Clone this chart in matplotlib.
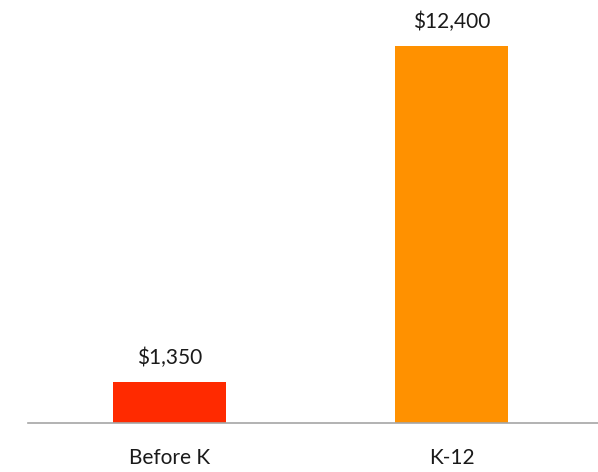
import matplotlib.pyplot as plt

categories = ["Before K", "K-12"]
values = [1350, 12400]
colors = ["#FF2A00", "#FF9100"]

plt.rcParams['font.family'] = ['Lato', 'DejaVu Sans']

fig = plt.figure(figsize=(5.98, 4.72), dpi=100)
ax = fig.add_axes([28 / 598, 49 / 472, 570 / 598, 423 / 472])

x = range(len(categories))
bars = ax.bar(x, values, width=0.4, color=colors)
for b, v in zip(bars, values):
    ax.annotate(f"${v:,}", (b.get_x() + b.get_width() / 2, v),
                xytext=(0, 10), textcoords="offset points",
                ha="center", va="bottom", fontsize=15, color="#1a1a1a")

ax.set_xlim(-0.5, 1.5 + 5 / 282.5)
ax.set_ylim(0, 12400 * 423 / 377)
ax.set_xticks(list(x))
ax.set_xticklabels(categories, fontsize=15, color="#1a1a1a")
ax.tick_params(axis="x", length=0, pad=18)
ax.set_yticks([])
for s in ["top", "right", "left"]:
    ax.spines[s].set_visible(False)
ax.spines["bottom"].set_color("#A6A6A6")
ax.spines["bottom"].set_linewidth(1.2)

fig.savefig("out.png", dpi=100)
